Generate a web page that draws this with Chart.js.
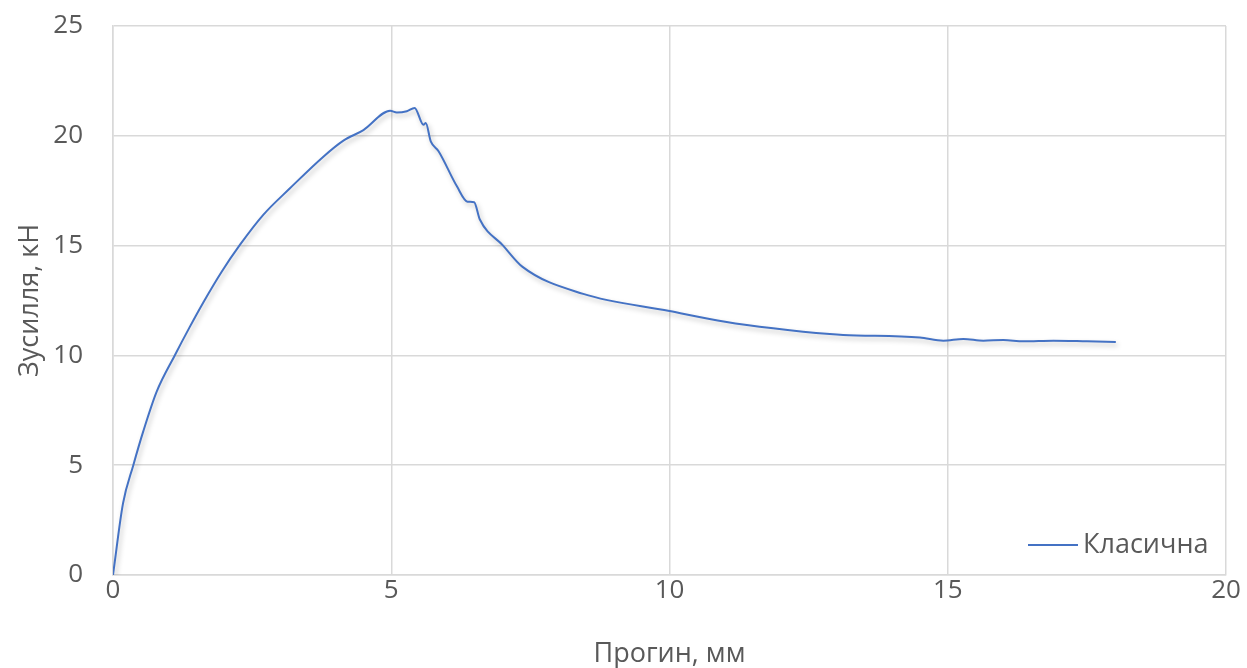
<!DOCTYPE html>
<html>
<head>
<meta charset="utf-8">
<script src="https://cdn.jsdelivr.net/npm/chart.js@4.4.0/dist/chart.umd.min.js"></script>
<style>
  html, body { margin: 0; padding: 0; background: #fff; }
  #wrap { width: 1247px; height: 668px; }
</style>
</head>
<body>
<div id="wrap"><canvas id="forceChart"></canvas></div>
<script>
// прогин, мм
var deflection = [0, 0.18, 0.365, 0.545, 0.785, 1.114, 1.38, 1.62, 1.95, 2.28, 2.7, 3.18, 3.78, 4.14, 4.5, 4.98, 5.1, 5.28, 5.42,
  5.58, 5.62, 5.71, 5.85, 6.18, 6.37, 6.49, 6.59, 7.01, 7.36, 8.45, 10.0, 11.0, 11.39, 12.4, 12.88, 13.12, 14.5, 14.92, 15.28,
  15.64, 16.0, 16.36, 16.9, 17.5, 18.02];
// зусилля, кН
var force = [0, 3.26, 5.0, 6.55, 8.35, 10.02, 11.3, 12.4, 13.8, 15.03, 16.4, 17.61, 19.05, 19.78, 20.26, 21.14, 21.06, 21.12, 21.27,
  20.5, 20.58, 19.75, 19.3, 17.7, 17.0, 16.97, 16.2, 15.0, 14.03, 12.8, 12.02, 11.53, 11.38, 11.08, 10.97, 10.93, 10.81, 10.67, 10.75,
  10.67, 10.7, 10.64, 10.67, 10.64, 10.61];
var seriesName = 'Класична';
var xTicks = [0, 5, 10, 15, 20];
var yTicks = [0, 5, 10, 15, 20, 25];

var points = deflection.map(function (x, i) { return { x: x, y: force[i] }; });
var fontFamily = '"Open Sans", "Liberation Sans", sans-serif';
var textColor = '#595959';
var tickSize = 26;
var titleSize = 27;

var legendInside = {
  id: 'legendInside',
  afterDraw: function (chart) {
    var ctx = chart.ctx;
    var area = chart.chartArea;
    var ds = chart.data.datasets[0];
    var y = area.bottom - 30;
    var x = area.right - 198;
    ctx.save();
    ctx.strokeStyle = ds.borderColor;
    ctx.lineWidth = 2;
    ctx.beginPath();
    ctx.moveTo(x, y);
    ctx.lineTo(x + 50, y);
    ctx.stroke();
    ctx.fillStyle = textColor;
    ctx.font = titleSize + 'px ' + fontFamily;
    ctx.textBaseline = 'middle';
    ctx.fillText(ds.label, x + 55, y);
    ctx.restore();
  }
};

var lineShadow = {
  id: 'lineShadow',
  beforeDatasetDraw: function (chart) {
    var ctx = chart.ctx;
    ctx.save();
    ctx.shadowColor = 'rgba(0,0,0,0.25)';
    ctx.shadowBlur = 5;
    ctx.shadowOffsetX = 2;
    ctx.shadowOffsetY = 3;
  },
  afterDatasetDraw: function (chart) {
    chart.ctx.restore();
  }
};

var forceChart = new Chart(document.getElementById('forceChart'), {
  type: 'scatter',
  data: {
    datasets: [{
      label: seriesName,
      data: points,
      showLine: true,
      borderColor: '#4472C4',
      backgroundColor: '#4472C4',
      borderWidth: 2,
      pointRadius: 0,
      cubicInterpolationMode: 'monotone'
    }]
  },
  options: {
    responsive: true,
    maintainAspectRatio: false,
    animation: false,
    layout: { autoPadding: false, padding: { top: 26, right: 21, left: 0, bottom: 0 } },
    plugins: {
      legend: { display: false },
      tooltip: { enabled: false }
    },
    scales: {
      x: {
        type: 'linear',
        min: 0,
        max: 20,
        afterBuildTicks: function (axis) { axis.ticks = xTicks.map(function (v) { return { value: v }; }); },
        afterFit: function (axis) { axis.height = 93; },
        grid: { color: '#d9d9d9', lineWidth: 1.5, drawTicks: false },
        border: { color: '#d9d9d9', width: 1.5 },
        ticks: { color: textColor, font: { family: fontFamily, size: tickSize }, padding: 0, maxRotation: 0 },
        title: { display: true, text: 'Прогин, мм', color: textColor, font: { family: fontFamily, size: titleSize }, padding: { top: 12, bottom: -3 } }
      },
      y: {
        type: 'linear',
        min: 0,
        max: 25,
        afterBuildTicks: function (axis) { axis.ticks = yTicks.map(function (v) { return { value: v }; }); },
        afterFit: function (axis) {
          axis.width = 113;
          axis.paddingTop = 0;
          axis.paddingBottom = 0;
        },
        grid: { color: '#d9d9d9', lineWidth: 1.5, drawTicks: false },
        border: { color: '#d9d9d9', width: 1.5 },
        ticks: { color: textColor, font: { family: fontFamily, size: tickSize }, padding: 30 },
        title: { display: true, text: 'Зусилля, кН', color: textColor, font: { family: fontFamily, size: titleSize }, padding: { top: 14, bottom: 0 } }
      }
    }
  },
  plugins: [lineShadow, legendInside]
});
</script>
</body>
</html>
